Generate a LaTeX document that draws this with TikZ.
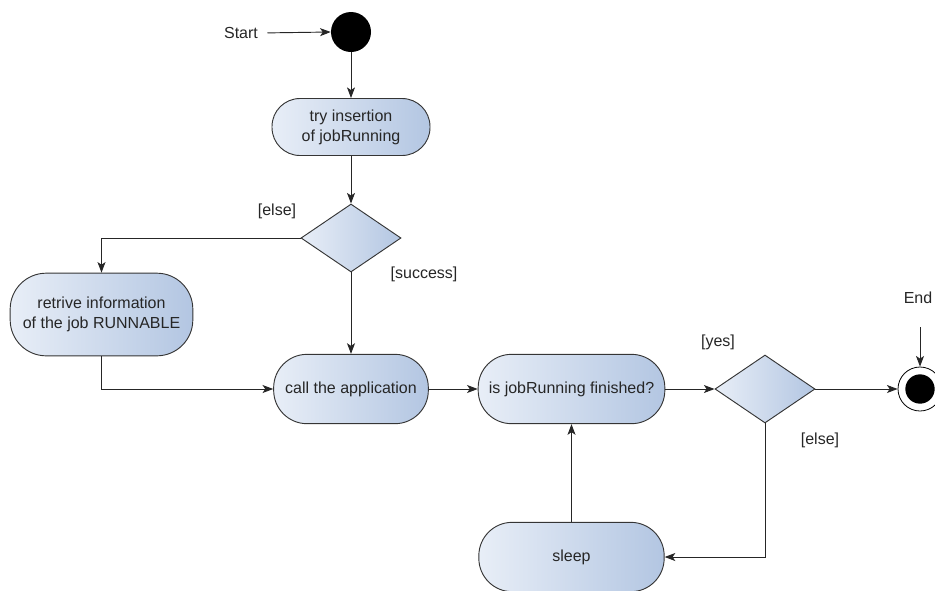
\documentclass[tikz,border=0pt]{standalone}
\usepackage{fontspec}
\setmainfont{Liberation Sans}
\usetikzlibrary{arrows.meta,shapes.geometric}

\definecolor{actleft}{HTML}{E8EEF7}
\definecolor{actright}{HTML}{B3C6E2}
\definecolor{edge}{HTML}{353535}
\definecolor{ink}{HTML}{262626}

\tikzset{
  actbox/.style={draw=edge, line width=0.7pt, left color=actleft, right color=actright,
    text=ink, align=center, inner sep=0pt, font=\fontsize{12}{15}\selectfont},
  decision/.style={diamond, draw=edge, line width=0.7pt, left color=actleft, right color=actright,
    inner sep=0pt, minimum width=75pt, minimum height=51pt},
  guard/.style={text=ink, inner sep=1pt, font=\fontsize{12}{14}\selectfont},
  flow/.style={draw=black!85, line width=0.7pt, -{Stealth[length=8pt,width=6pt,inset=2pt]}},
}

\begin{document}
\begin{tikzpicture}[x=0.75pt, y=-0.75pt]
  \useasboundingbox (0,0) rectangle (935,590);

  % initial and final states
  \node[circle, fill=black, minimum size=30pt, inner sep=0pt] (startc) at (351,32) {};
  \node[circle, draw=black, line width=0.6pt, fill=white, minimum size=33pt, inner sep=0pt] (endc) at (920,389) {};
  \node[circle, fill=black, minimum size=22pt, inner sep=0pt] (endcore) at (endc.center) {};

  % actions
  \node[actbox, minimum width=118.5pt, minimum height=42.75pt, rounded corners=21pt] (try) at (351,127)
    {try insertion\\of jobRunning};
  \node[actbox, minimum width=137pt, minimum height=62pt, rounded corners=27pt] (retr) at (101.5,314.5)
    {retrive information\\of the job RUNNABLE};
  \node[actbox, minimum width=116pt, minimum height=52pt, rounded corners=25pt] (call) at (351,389)
    {call the application};
  \node[actbox, minimum width=140pt, minimum height=52pt, rounded corners=25pt] (isjob) at (571.5,389)
    {is jobRunning finished?};
  \node[actbox, minimum width=139pt, minimum height=52pt, rounded corners=25pt] (sleep) at (571.5,557)
    {sleep};

  % decisions
  \node[decision] (d1) at (351,238) {};
  \node[decision] (d2) at (765,389) {};

  % labels
  \node[guard] (startlbl) at (241,33) {Start};
  \node[guard] (endlbl) at (918,298) {End};
  \node[guard] (g1) at (277,211) {[else]};
  \node[guard] (g2) at (424,274) {[success]};
  \node[guard] (g3) at (718,342) {[yes]};
  \node[guard] (g4) at (820,440) {[else]};
  \coordinate (endtail) at (920,327);

  % control flow
  \draw[flow, shorten <=6pt] (startlbl.east) -- (startc.west);
  \draw[flow] (startc.south) -- (try.north);
  \draw[flow] (try.south) -- (d1.north);
  \draw[flow] (d1.west) -| (retr.north);
  \draw[flow] (d1.south) -- (call.north);
  \draw[flow] (retr.south) |- (call.west);
  \draw[flow] (call.east) -- (isjob.west);
  \draw[flow] (isjob.east) -- (d2.west);
  \draw[flow] (d2.east) -- (endc.west);
  \draw[flow] (endtail) -- (endc.north);
  \draw[flow] (d2.south) |- (sleep.east);
  \draw[flow] (sleep.north) -- (isjob.south);
\end{tikzpicture}
\end{document}
